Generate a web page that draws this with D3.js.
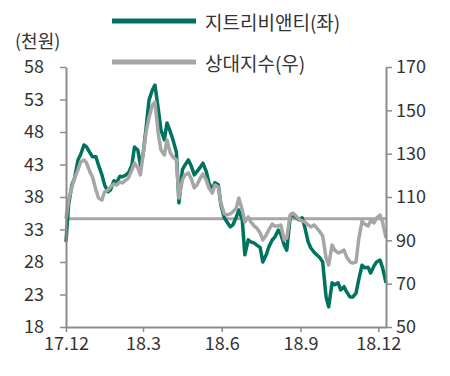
<!DOCTYPE html>
<html><head><meta charset="utf-8">
<script src="https://cdn.jsdelivr.net/npm/d3@7"></script>
<style>
html,body{margin:0;padding:0;background:#fff;}
svg{display:block;}
text{font-family:"Noto Sans CJK KR","Noto Sans",sans-serif;fill:#333;}
</style></head><body>
<svg id="c" width="450" height="376"></svg>
<script>
const dates = ["2017-12-01","2017-12-04","2017-12-08","2017-12-11","2017-12-15","2017-12-18","2017-12-22","2017-12-25","2017-12-29",
"2018-01-01","2018-01-05","2018-01-08","2018-01-12","2018-01-15","2018-01-19","2018-01-22","2018-01-26","2018-01-29",
"2018-02-02","2018-02-05","2018-02-09","2018-02-12","2018-02-16","2018-02-19","2018-02-23","2018-02-26",
"2018-03-01","2018-03-05","2018-03-08","2018-03-12","2018-03-15","2018-03-19","2018-03-22","2018-03-26","2018-03-29",
"2018-04-02","2018-04-05","2018-04-09","2018-04-12","2018-04-16","2018-04-19","2018-04-23","2018-04-26","2018-04-30",
"2018-05-03","2018-05-07","2018-05-10","2018-05-14","2018-05-17","2018-05-21","2018-05-24","2018-05-28","2018-05-31",
"2018-06-04","2018-06-07","2018-06-11","2018-06-14","2018-06-18","2018-06-21","2018-06-25","2018-06-28",
"2018-07-02","2018-07-05","2018-07-09","2018-07-12","2018-07-16","2018-07-19","2018-07-23","2018-07-26","2018-07-30",
"2018-08-02","2018-08-06","2018-08-09","2018-08-13","2018-08-16","2018-08-20","2018-08-23","2018-08-27","2018-08-30",
"2018-09-03","2018-09-06","2018-09-10","2018-09-13","2018-09-17","2018-09-20","2018-09-24","2018-09-27",
"2018-10-01","2018-10-04","2018-10-08","2018-10-11","2018-10-15","2018-10-18","2018-10-22","2018-10-25","2018-10-29",
"2018-11-01","2018-11-05","2018-11-08","2018-11-12","2018-11-15","2018-11-19","2018-11-22","2018-11-26","2018-11-29",
"2018-12-03","2018-12-06","2018-12-10"];

// 지트리비앤티 stock price (천원, left axis)
const stockPrice = [31.1,36.8,39.9,40.9,43.7,44.5,46.0,45.7,44.8,
44.2,44.2,42.9,41.4,39.9,38.8,39.1,40.5,40.2,
41.2,41.1,41.4,41.7,42.9,45.7,45.2,42.9,
44.5,49.1,52.9,54.5,55.2,51.4,48.3,46.8,49.4,
48.0,46.8,44.9,37.1,42.2,42.9,43.7,42.9,41.4,
41.9,42.6,43.2,41.9,40.2,39.1,40.2,39.9,36.8,
34.8,34.2,33.4,33.7,34.9,36.0,34.5,29.1,
31.4,31.1,30.9,30.6,30.2,28.0,29.1,30.3,31.4,
31.8,32.9,32.3,30.6,29.8,34.9,35.2,34.9,34.5,
34.8,33.4,31.1,30.2,29.5,29.1,28.6,28.0,
22.6,21.1,24.8,24.5,24.8,23.7,24.2,23.4,22.6,
22.6,23.2,25.2,27.5,27.1,27.2,26.3,27.4,28.0,
28.3,27.1,24.8];

// 상대지수 relative index (right axis)
const relIndex = [100.0,108.6,114.6,118.8,122.5,126.2,127.1,125.7,121.5,
119.2,113.2,109.5,108.6,112.3,113.2,114.6,116.0,115.5,
116.9,116.5,117.8,118.8,122.5,125.7,123.4,120.2,
129.4,140.9,146.5,152.5,153.8,138.6,131.7,129.4,136.3,
130.3,128.5,127.1,109.5,117.8,120.2,121.1,118.8,114.2,
115.5,118.8,120.6,117.8,114.2,111.8,115.5,114.6,107.2,
102.2,101.8,102.2,103.1,104.9,109.5,104.0,98.5,
100.8,98.5,96.6,95.7,93.4,90.2,92.5,94.8,97.5,
96.6,96.6,97.1,90.2,91.1,101.7,102.6,101.2,99.8,
98.9,98.5,97.1,96.2,97.1,95.7,93.8,92.0,
81.8,78.6,87.8,85.5,84.2,84.6,85.5,82.3,80.0,
79.5,80.0,90.2,98.9,97.5,96.6,98.9,98.0,100.3,
101.7,98.5,91.1];

const leftTicks = [18,23,28,33,38,43,48,53,58];
const rightTicks = [50,70,90,110,130,150,170];
const xTickDates = ["2017-12-01","2018-03-01","2018-06-01","2018-09-01","2018-12-01"];
const xTickLabels = ["17.12","18.3","18.6","18.9","18.12"];
const baseValue = 100;
const seriesNames = ["지트리비앤티(좌)","상대지수(우)"];
const unitLabel = "(천원)";

const parse = d3.timeParse("%Y-%m-%d");
const dts = dates.map(parse);
const svg = d3.select("#c");
const L = 66, R = 386, T = 67, B = 327;
const x = d3.scaleTime().domain([parse("2017-12-01"), parse("2018-12-10")]).range([L, R]);
const yL = d3.scaleLinear().domain([18,58]).range([B,T]);
const yR = d3.scaleLinear().domain([50,170]).range([B,T]);
const green = "#00735e", gray = "#a6a6a6", axisCol = "#8c8c8c";

// baseline at 100
svg.append("line").attr("x1",L).attr("x2",R).attr("y1",yR(baseValue)).attr("y2",yR(baseValue))
  .attr("stroke",gray).attr("stroke-width",3);

const lineG = d3.line().x((d,i)=>x(dts[i])).y(d=>yL(d)).curve(d3.curveLinear);
const lineR = d3.line().x((d,i)=>x(dts[i])).y(d=>yR(d)).curve(d3.curveLinear);
svg.append("path").datum(stockPrice).attr("d",lineG).attr("fill","none")
  .attr("stroke",green).attr("stroke-width",3.5).attr("stroke-linejoin","round");
svg.append("path").datum(relIndex).attr("d",lineR).attr("fill","none")
  .attr("stroke",gray).attr("stroke-width",3.5).attr("stroke-linejoin","round");

function styleAxis(g){
  g.select(".domain").attr("stroke",axisCol).attr("stroke-width",2);
  g.selectAll(".tick line").attr("stroke",axisCol).attr("stroke-width",1.5);
  g.selectAll(".tick text").style("font-size","18px").attr("fill","#333");
}
svg.append("g").attr("transform",`translate(${L},0)`)
  .call(d3.axisLeft(yL).tickValues(leftTicks).tickSize(6).tickPadding(16).tickSizeOuter(0))
  .call(styleAxis);
svg.append("g").attr("transform",`translate(${R},0)`)
  .call(d3.axisRight(yR).tickValues(rightTicks).tickSize(6).tickPadding(4).tickSizeOuter(0))
  .call(styleAxis);
svg.append("g").attr("transform",`translate(0,${B})`)
  .call(d3.axisBottom(x).tickValues(xTickDates.map(parse)).tickFormat((d,i)=>xTickLabels[i]).tickSize(5).tickPadding(5).tickSizeOuter(0))
  .call(styleAxis);

// unit label
svg.append("text").attr("x",15).attr("y",40).attr("dominant-baseline","central")
  .style("font-size","18px").text(unitLabel);

// legend
const legY = [21, 62], legCols = [green, gray];
seriesNames.forEach((n,i)=>{
  svg.append("line").attr("x1",112).attr("x2",196).attr("y1",legY[i]).attr("y2",legY[i])
    .attr("stroke",legCols[i]).attr("stroke-width",5);
  svg.append("text").attr("x",205).attr("y",legY[i]).attr("dominant-baseline","central")
    .style("font-size","19px").text(n);
});
</script></body></html>
